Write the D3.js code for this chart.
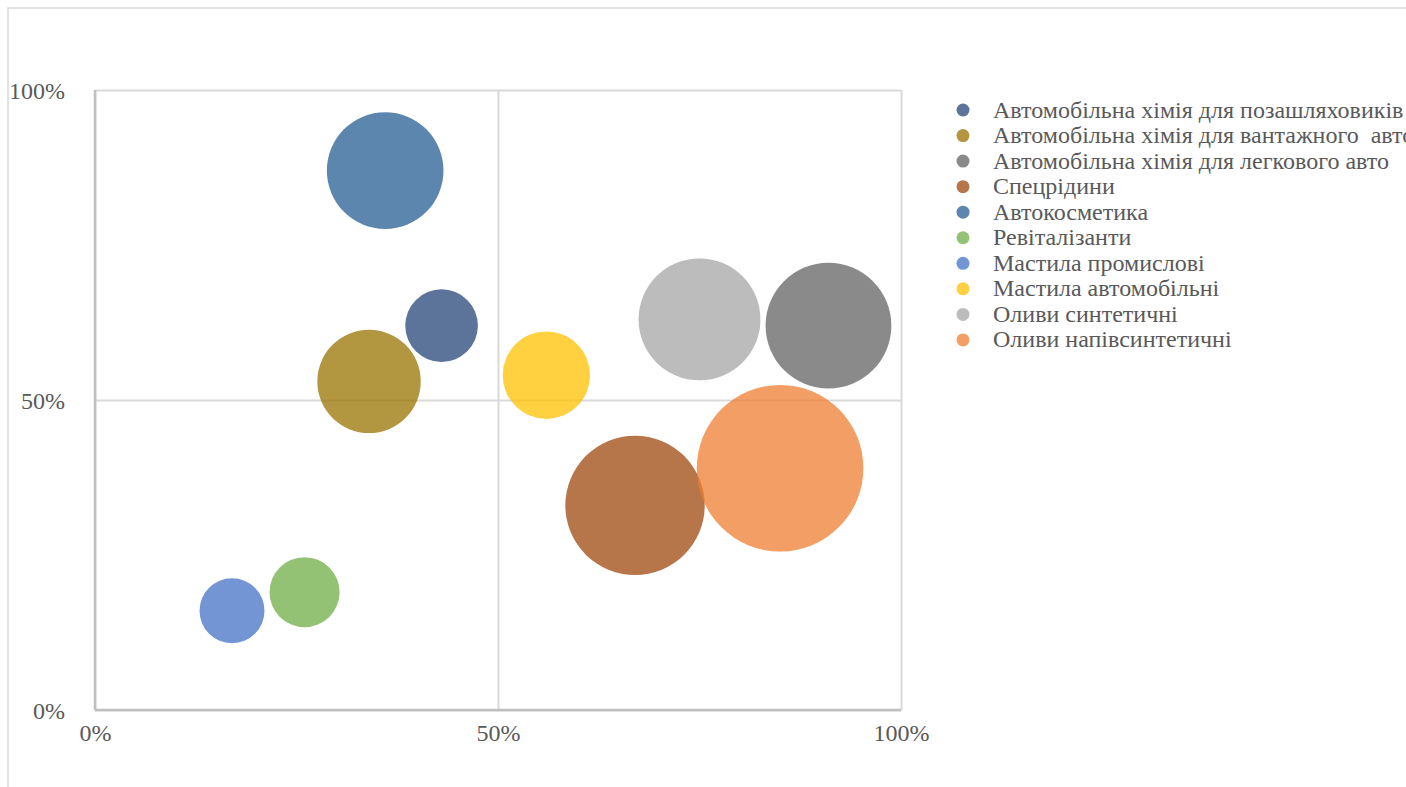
<!DOCTYPE html>
<html>
<head>
<meta charset="utf-8">
<script src="https://cdn.jsdelivr.net/npm/d3@7"></script>
<style>
  body { margin: 0; background: #fff; overflow: hidden; }
  svg text { fill: #595959; }
  .legend text { white-space: pre; }
</style>
</head>
<body>
<svg id="chart" width="1406" height="787"></svg>
<script>
// series names (legend order)
const names = [
    "Автомобільна хімія для позашляховиків",
    "Автомобільна хімія для вантажного  авто",
    "Автомобільна хімія для легкового авто",
    "Спецрідини",
    "Автокосметика",
    "Ревіталізанти",
    "Мастила промислові",
    "Мастила автомобільні",
    "Оливи синтетичні",
    "Оливи напівсинтетичні",
];
// x position (share), y position (share), bubble size
const xValues = [0.43, 0.34, 0.91, 0.67, 0.36, 0.26, 0.17, 0.56, 0.75, 0.85];
const yValues = [0.62, 0.53, 0.62, 0.33, 0.87, 0.19, 0.16, 0.54, 0.63, 0.39];
const sizes = [1.9, 3.85, 5.7, 7.0, 4.9, 1.77, 1.52, 2.75, 5.35, 10];
const colors = [
    "#264478", "#997300", "#636363", "#9e480e", "#255e91",
    "#70ad47", "#4472c4", "#ffc000", "#a5a5a5", "#ed7d31",
];
const tickValues = [0, 0.5, 1];

const font = '"Liberation Serif"';

const svg = d3.select("#chart");
const margin = { top: 90, left: 95 };
const width = 806, height = 620;

// chart frame
svg.append("rect")
    .attr("x", 8).attr("y", 8)
    .attr("width", 1420).attr("height", 800)
    .attr("fill", "none")
    .attr("stroke", "#d9d9d9")
    .attr("stroke-width", 1.5);

const x = d3.scaleLinear().domain([0, 1]).range([0, width]);
const y = d3.scaleLinear().domain([0, 1]).range([height, 0]);
const r = d3.scaleSqrt().domain([0, 10]).range([0, 83.3]);

const g = svg.append("g")
    .attr("transform", `translate(${margin.left},${margin.top})`);

// grid lines
g.append("g")
    .attr("class", "x grid")
    .attr("transform", `translate(0,${height})`)
    .call(d3.axisBottom(x).tickValues(tickValues).tickSize(-height).tickFormat(""))
    .call(s => s.select(".domain").remove())
    .call(s => s.selectAll("line").attr("stroke", "#d9d9d9").attr("stroke-width", 2));

g.append("g")
    .attr("class", "y grid")
    .call(d3.axisLeft(y).tickValues(tickValues).tickSize(-width).tickFormat(""))
    .call(s => s.select(".domain").remove())
    .call(s => s.selectAll("line").attr("stroke", "#d9d9d9").attr("stroke-width", 2));

// axis lines
g.append("line")
    .attr("x1", 0).attr("x2", width)
    .attr("y1", height).attr("y2", height)
    .attr("stroke", "#bfbfbf").attr("stroke-width", 2.5);
g.append("line")
    .attr("x1", 0).attr("x2", 0)
    .attr("y1", 0).attr("y2", height)
    .attr("stroke", "#bfbfbf").attr("stroke-width", 2.5);

// bubbles
const data = names.map((n, i) => ({ name: n, x: xValues[i], y: yValues[i], size: sizes[i], color: colors[i] }));

g.selectAll(".bubble")
    .data(data)
    .enter()
    .append("circle")
    .attr("class", "bubble")
    .attr("cx", d => x(d.x))
    .attr("cy", d => y(d.y))
    .attr("r", d => r(d.size))
    .attr("fill", d => d.color)
    .attr("fill-opacity", 0.75);

// axis labels
const fmt = d3.format(".0%");
const xAxis = g.append("g")
    .attr("transform", `translate(0,${height})`)
    .call(d3.axisBottom(x).tickValues(tickValues).tickSize(0).tickPadding(0).tickFormat(fmt));
xAxis.select(".domain").remove();
xAxis.selectAll("text")
    .attr("y", 31).attr("dy", null)
    .style("font-family", font)
    .style("font-size", "24px");

const yAxis = g.append("g")
    .call(d3.axisLeft(y).tickValues(tickValues).tickSize(0).tickPadding(0).tickFormat(fmt));
yAxis.select(".domain").remove();
yAxis.selectAll("text")
    .attr("x", -30).attr("dy", 8.5)
    .style("font-family", font)
    .style("font-size", "24px");

// legend
const legend = svg.append("g")
    .attr("class", "legend")
    .attr("transform", "translate(963,110)");

const rows = legend.selectAll(".row")
    .data(data)
    .enter()
    .append("g")
    .attr("transform", (d, i) => `translate(0,${i * 25.55})`);

rows.append("circle")
    .attr("r", 6.5)
    .attr("fill", d => d.color)
    .attr("fill-opacity", 0.75);

rows.append("text")
    .attr("x", 30)
    .attr("y", 7.5)
    .style("font-family", font)
    .style("font-size", "24px")
    .text(d => d.name);
</script>
</body>
</html>
